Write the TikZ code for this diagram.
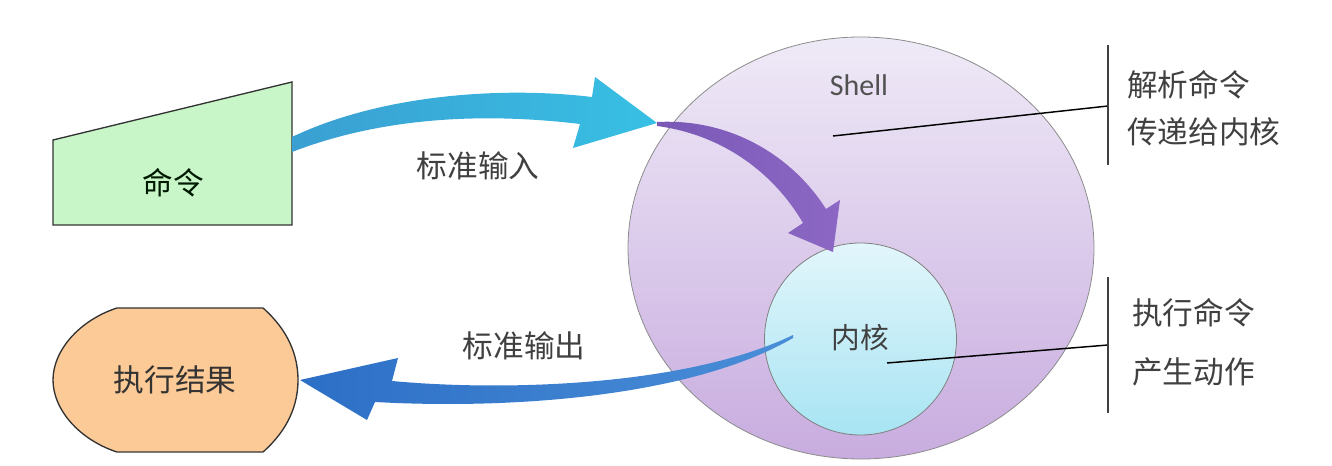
\documentclass[tikz,border=0pt]{standalone}
\usepackage{fontspec}
\setmainfont{Carlito}
\newfontfamily\cjk{Noto Sans CJK SC}
\definecolor{boxgreen}{HTML}{C8F6C8}
\definecolor{boxorange}{HTML}{FCCA96}
\definecolor{shellTop}{HTML}{EFEAF7}
\definecolor{shellBot}{HTML}{C8ACDF}
\definecolor{kernTop}{HTML}{E2F6FB}
\definecolor{kernBot}{HTML}{A8E4F3}
\definecolor{inL}{HTML}{3A9FD2}
\definecolor{inR}{HTML}{38C0E4}
\definecolor{purA}{HTML}{7A58B6}
\definecolor{purB}{HTML}{8C68C4}
\definecolor{outL}{HTML}{2C6FC6}
\definecolor{outR}{HTML}{4A8ED8}
\definecolor{txt}{HTML}{404040}
\begin{document}
\begin{tikzpicture}[x=0.75pt,y=-0.75pt,
  cn/.style={font=\cjk\fontsize{23}{28}\selectfont, text=txt, inner sep=0pt},
  outline/.style={draw=black!80, line width=1pt},
  leader/.style={draw=black, line width=1.1pt},
  bar/.style={draw=black!75, line width=1.5pt}]
\useasboundingbox (0,0) rectangle (1332,466);
% command trapezoid
\filldraw[outline, fill=boxgreen] (53,140) -- (292,82) -- (292,225) -- (53,225) -- cycle;
\node[cn, text=black!75!green!40!black] (cmd) at (173,183) {命令};
% result shape
\filldraw[outline, fill=boxorange] (117,308) -- (263,308) .. controls (288,330) and (298,355) .. (298,380)
  .. controls (298,405) and (288,430) .. (263,452) -- (117,452)
  .. controls (80,440) and (53,410) .. (53,380) .. controls (53,350) and (80,320) .. (117,308) -- cycle;
\node[cn, text=black!80] (res) at (175,380) {执行结果};
% shell and kernel
\shade[top color=shellTop, bottom color=shellBot, draw=black!45, line width=0.6pt]
  (861,248) ellipse [x radius=174.75pt, y radius=158.25pt];
\shade[top color=kernTop, bottom color=kernBot, draw=black!50, line width=0.6pt]
  (860.5,339) circle [radius=72pt];
\node[font=\fontsize{22.5}{26}\selectfont, text=black!68, inner sep=0pt] (shell) at (859,85) {Shell};
\node[cn, font=\cjk\fontsize{21.5}{26}\selectfont] (kern) at (860,338) {内核};
% input arrow
\shade[left color=inL, right color=inR] (292,137) .. controls (380,95) and (500,86) .. (592,97)
  -- (595,77) -- (657,123) -- (573,148) -- (580,124)
  .. controls (480,112) and (380,118) .. (292,152) -- cycle;
% purple arrow
\shade[left color=purA, right color=purB] (657,122) .. controls (735,118) and (795,160) .. (826,209)
  -- (840,200) -- (833,252) -- (788,233) -- (803,223)
  .. controls (775,175) and (725,135) .. (657,126) -- cycle;
% output arrow
\shade[left color=outL, right color=outR] (793,335) .. controls (690,385) and (510,392) .. (392,381)
  -- (398,358) -- (300,380) -- (367,420) -- (375,402)
  .. controls (520,410) and (695,395) .. (793,338) -- cycle;
\node[cn] (stdin) at (478,166) {标准输入};
\node[cn] (stdout) at (524,346) {标准输出};
% annotations
\coordinate (s1) at (833,136);
\coordinate (s2) at (1108,106);
\coordinate (b1t) at (1108,45);
\coordinate (b1b) at (1108,165);
\draw[leader] (s1) -- (s2);
\draw[bar] (b1t) -- (b1b);
\node[cn, anchor=west] (a1) at (1127,85) {解析命令};
\node[cn, anchor=west] (a2) at (1127,132) {传递给内核};
\coordinate (k1) at (887,363);
\coordinate (k2) at (1108,345);
\coordinate (b2t) at (1108,277);
\coordinate (b2b) at (1108,413);
\draw[leader] (k1) -- (k2);
\draw[bar] (b2t) -- (b2b);
\node[cn, anchor=west] (a3) at (1132,313) {执行命令};
\node[cn, anchor=west] (a4) at (1132,372) {产生动作};
\end{tikzpicture}
\end{document}
